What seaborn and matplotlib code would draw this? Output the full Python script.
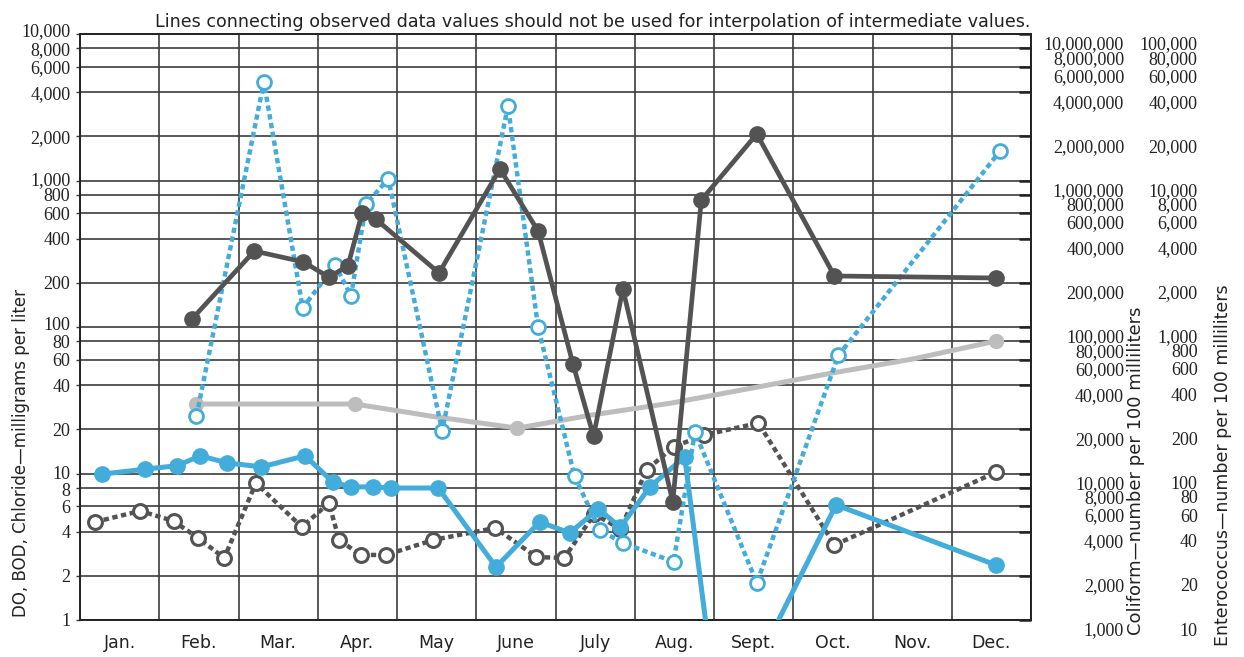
import numpy as np
import matplotlib
matplotlib.use('Agg')
import matplotlib.pyplot as plt
import matplotlib.transforms as mtransforms
from matplotlib.ticker import NullLocator
import seaborn as sns

# Month labels and the log grid shared by the three scales
months = ['Jan.', 'Feb.', 'Mar.', 'Apr.', 'May', 'June', 'July',
          'Aug.', 'Sept.', 'Oct.', 'Nov.', 'Dec.']
grid_values = [1, 2, 4, 6, 8, 10, 20, 40, 60, 80, 100, 200, 400, 600, 800,
               1000, 2000, 4000, 6000, 8000, 10000]

# All series in left-axis units (x = month position, 0 = start of Jan.)
dark_solid_x = [1.41, 2.20, 2.82, 3.14, 3.38, 3.56, 3.73, 4.53, 5.30, 5.78,
                6.22, 6.48, 6.85, 7.48, 7.84, 8.54, 9.52, 11.56]
dark_solid_y = [113, 330, 278, 219, 261, 600, 546, 234, 1198, 452,
                56, 18, 182, 6.4, 736, 2077, 223, 216]

blue_dotted_x = [1.47, 2.32, 2.81, 3.22, 3.42, 3.61, 3.89, 4.57, 5.40, 5.78,
                 6.24, 6.56, 6.85, 7.49, 7.76, 8.54, 9.57, 11.61]
blue_dotted_y = [24.7, 4700, 135, 265, 163, 691, 1024, 19.5, 3225, 100,
                 9.6, 4.1, 3.36, 2.5, 19.2, 1.79, 64, 1590]

chloride_x = [1.47, 3.47, 4.50, 5.52, 6.46, 7.47, 8.48, 9.49, 10.51, 11.56]
chloride_y = [29.8, 29.8, 24.3, 20.4, 25.1, 30.3, 38.3, 48.5, 60.5, 80.2]
chloride_marks = [0, 1, 3, 9]

do_x = [0.28, 0.82, 1.22, 1.52, 1.86, 2.29, 2.84, 3.19, 3.42, 3.70, 3.92,
        4.52, 5.25, 5.80, 6.18, 6.54, 6.82, 7.19, 7.63, 8.08, 9.54, 11.56]
do_y = [9.9, 10.7, 11.3, 13.2, 11.8, 11.1, 13.2, 8.75, 8.1, 8.1, 7.96,
        7.96, 2.30, 4.67, 3.93, 5.72, 4.3, 8.09, 13.0, 0.16, 6.1, 2.37]

bod_x = [0.19, 0.76, 1.18, 1.49, 1.82, 2.22, 2.80, 3.14, 3.27, 3.54, 3.86,
         4.46, 5.24, 5.76, 6.11, 6.49, 6.82, 7.15, 7.49, 7.87, 8.56, 9.52, 11.56]
bod_y = [4.67, 5.55, 4.74, 3.63, 2.65, 8.61, 4.31, 6.29, 3.52, 2.78, 2.78,
         3.52, 4.25, 2.69, 2.65, 5.29, 4.18, 10.6, 15.2, 18.3, 22.1, 3.25, 10.2]

BLUE = '#42acda'
DARK = '#535353'
LIGHT = '#bdbdbd'
GRID = '#3c3c3c'
INK = '#222222'
dotted = (0, (1.2, 0.8))

sns.set_theme(style='white')
plt.rcParams['font.family'] = ['DejaVu Sans']

fig = plt.figure(figsize=(12.44, 6.57), dpi=100)
ax = fig.add_axes([80 / 1244, 37 / 657, 951 / 1244, 586 / 657])

ax.set_yscale('log')
ax.set_ylim(1, 10000)
ax.set_xlim(0, 12)

# chloride, light gray
sns.lineplot(x=chloride_x, y=chloride_y, ax=ax, color=LIGHT, lw=3.6,
             marker='o', ms=10, markevery=chloride_marks,
             markerfacecolor=LIGHT, markeredgecolor=LIGHT, markeredgewidth=1,
             zorder=3)
# BOD, dark dotted, open circles
sns.lineplot(x=bod_x, y=bod_y, ax=ax, color=DARK, lw=3.2, ls=dotted,
             marker='o', ms=10, markerfacecolor='white',
             markeredgecolor=DARK, markeredgewidth=2.2, zorder=4)
# DO, blue solid
sns.lineplot(x=do_x, y=do_y, ax=ax, color=BLUE, lw=3.6,
             marker='o', ms=11, markerfacecolor=BLUE,
             markeredgecolor=BLUE, markeredgewidth=1, zorder=5)
# blue dotted, open circles
sns.lineplot(x=blue_dotted_x, y=blue_dotted_y, ax=ax, color=BLUE, lw=3.2,
             ls=dotted, marker='o', ms=10, markerfacecolor='white',
             markeredgecolor=BLUE, markeredgewidth=2, zorder=5)
# dark solid
sns.lineplot(x=dark_solid_x, y=dark_solid_y, ax=ax, color=DARK, lw=3.4,
             marker='o', ms=11, markerfacecolor=DARK,
             markeredgecolor=DARK, markeredgewidth=1, zorder=6)

# grid: log rows, month columns
ax.yaxis.set_minor_locator(NullLocator())
ax.set_yticks(grid_values, [f'{v:,}' for v in grid_values])
ax.set_xticks(np.arange(13), minor=True)
ax.set_xticks(np.arange(12) + 0.5, months)
ax.grid(False)
ax.yaxis.grid(True, which='major', color=GRID, lw=1.2)
ax.xaxis.grid(True, which='minor', color=GRID, lw=1.2)
ax.tick_params(axis='x', which='both', length=0, pad=10, labelsize=12.5,
               labelcolor=INK)
ax.tick_params(axis='y', which='major', length=3, width=1, pad=4,
               color=GRID, labelsize=13, labelcolor=INK)
for sp in ax.spines.values():
    sp.set_color(INK)
    sp.set_linewidth(1.4)

# the stacked labels sit a little off their lines, as on the printed scale
left_shift = {10000: 4, 1000: 2, 100: 4, 10: 1, 8: -2}
for v, lbl in zip(grid_values, ax.get_yticklabels()):
    lbl.set_fontfamily('Liberation Serif')
    dy = left_shift.get(v, 0)
    if dy:
        lbl.set_transform(lbl.get_transform() + mtransforms.ScaledTranslation(
            0, dy / 100, fig.dpi_scale_trans))

ax.set_ylabel('DO, BOD, Chloride\u2014milligrams per liter', fontsize=12,
              color=INK)
ax.yaxis.set_label_coords(-0.062, 0.285)
ax.yaxis.label.set_va('center')

right_drop = mtransforms.ScaledTranslation(0, -9 / 100, fig.dpi_scale_trans)

# coliform scale
ax2 = ax.twinx()
ax2.set_yscale('log')
ax2.set_ylim(1000, 10000000)
ax2.yaxis.set_minor_locator(NullLocator())
coli_ticks = [v * 1000 for v in grid_values]
ax2.set_yticks(coli_ticks, [f'{v:,}' for v in coli_ticks])
ax2.tick_params(axis='y', direction='in', length=9, width=1.8, pad=67,
                color=INK, labelsize=13, labelcolor=INK)
for lbl in ax2.get_yticklabels():
    lbl.set_ha('right')
    lbl.set_fontfamily('Liberation Serif')
    lbl.set_transform(lbl.get_transform() + right_drop)
ax2.set_ylabel('Coliform\u2014number per 100 milliliters', fontsize=13,
               color=INK)
ax2.yaxis.set_label_coords(1.110, 0.255)
ax2.yaxis.label.set_va('center')
for sp in ax2.spines.values():
    sp.set_visible(False)

# enterococcus scale
ax3 = ax.twinx()
ax3.set_yscale('log')
ax3.set_ylim(10, 100000)
ax3.yaxis.set_minor_locator(NullLocator())
ent_ticks = [v * 10 for v in grid_values]
ax3.set_yticks(ent_ticks, [f'{v:,}' for v in ent_ticks])
ax3.tick_params(axis='y', length=0, pad=120, labelsize=13,
                labelcolor=INK)
for lbl in ax3.get_yticklabels():
    lbl.set_ha('right')
    lbl.set_fontfamily('Liberation Serif')
    lbl.set_transform(lbl.get_transform() + right_drop)
ax3.set_ylabel('Enterococcus\u2014number per 100 milliliters', fontsize=12.5,
               color=INK)
ax3.yaxis.set_label_coords(1.202, 0.265)
ax3.yaxis.label.set_va('center')
for sp in ax3.spines.values():
    sp.set_visible(False)

fig.text(1030 / 1244, 1 - 22 / 657,
         'Lines connecting observed data values should not be used for '
         'interpolation of intermediate values.',
         ha='right', va='center', fontsize=12.6, color=INK)

fig.savefig('out.png', dpi=100)
